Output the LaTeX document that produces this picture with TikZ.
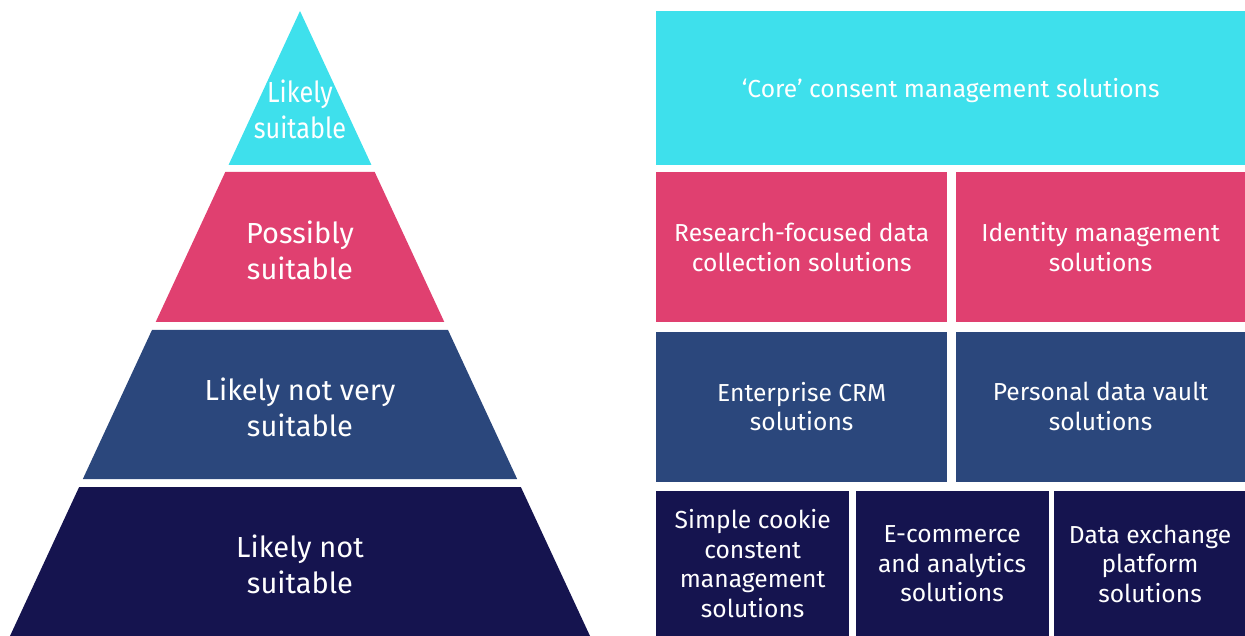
\documentclass[tikz,border=0pt]{standalone}
\usepackage{fontspec}
\setmainfont{Fira Sans}
\usetikzlibrary{positioning}
\definecolor{tierTop}{HTML}{3EE0EC}
\definecolor{tierPink}{HTML}{E04070}
\definecolor{tierBlue}{HTML}{2B477C}
\definecolor{tierNavy}{HTML}{15144F}
\newcommand{\pyrfont}{\fontsize{29}{36}\selectfont}
\newcommand{\boxfont}{\fontsize{24.6}{29.5}\selectfont}

\begin{document}
\begin{tikzpicture}[x=1pt,y=-1pt,every node/.style={text=white,align=center,inner sep=0pt},
  sol/.style={font=\boxfont,minimum height=150pt}]
\useasboundingbox (0,0) rectangle (1245,636);
% pyramid, cut from one triangle with apex (300,11), slope .464
\foreach \t/\b/\c in {11/165/tierTop,172/322/tierPink,330/479/tierBlue,487/636/tierNavy}{\fill[\c] ({300-.464*(\t-11)},\t) -- ({300+.464*(\t-11)},\t) -- ({300+.464*(\b-11)},\b) -- ({300-.464*(\b-11)},\b) -- cycle;}
\node[font=\pyrfont,xscale=.87] (likely) at (300,109) {Likely\\suitable};
\node[font=\pyrfont] (possibly) at (300,250) {Possibly\\suitable};
\node[font=\pyrfont] (notvery) at (300,407) {Likely not very\\suitable};
\node[font=\pyrfont] (notsuit) at (300,564) {Likely not\\suitable};
% solution boxes
\node[sol,fill=tierTop,minimum width=589pt,minimum height=154pt,anchor=north west,text height=24.5pt,text depth=5pt] (core) at (656,11) {‘Core’ consent management solutions};
\node[sol,fill=tierPink,minimum width=291pt,anchor=north west] (research) at (656,172) {Research-focused data\\collection solutions};
\node[sol,fill=tierPink,minimum width=290pt,right=8pt of research] (identity) {Identity management\\solutions};
\node[sol,fill=tierBlue,minimum width=291pt,below=9pt of research] (crm) {Enterprise CRM\\solutions};
\node[sol,fill=tierBlue,minimum width=290pt,right=8pt of crm] (vault) {Personal data vault\\solutions};
\node[sol,fill=tierNavy,minimum width=193pt,minimum height=145pt,anchor=north west] (cookie) at (656,491) {Simple cookie\\constent\\management\\solutions};
\node[sol,fill=tierNavy,minimum width=193pt,minimum height=145pt,right=6pt of cookie] (ecommerce) {E-commerce\\and analytics\\solutions};
\node[sol,fill=tierNavy,minimum width=192pt,minimum height=145pt,right=5pt of ecommerce] (exchange) {Data exchange\\platform\\solutions};
\end{tikzpicture}
\end{document}
